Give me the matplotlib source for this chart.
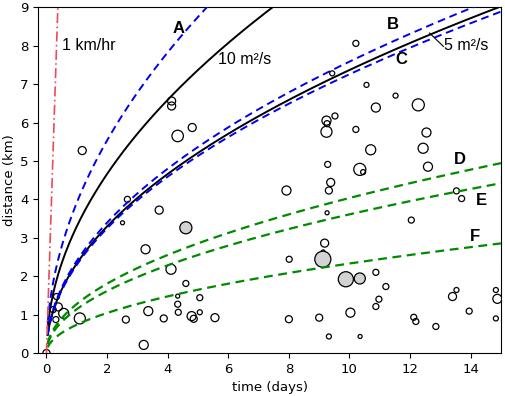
import matplotlib
matplotlib.use("Agg")
import matplotlib.pyplot as plt
import numpy as np

# diffusivities (m^2/s) of the reference curves
black_D = [10, 5]
black_labels = ["10 m\u00b2/s", "5 m\u00b2/s"]
blue_D = [14.1, 5.3, 4.85]
blue_names = ["A", "B", "C"]
green_D = [1.5, 1.2, 0.5]
green_names = ["D", "E", "F"]
speed_kmh = 1

# events: time (days), distance (km), marker size, filled
ev_time = [0.0, 0.22, 0.33, 0.39, 0.31, 0.57, 1.10, 1.18, 2.51, 2.67,
           2.62, 3.21, 3.27, 3.36, 3.72, 3.87, 4.11, 4.13, 4.13, 4.33,
           4.33, 4.33, 4.35, 4.60, 4.60, 4.79, 4.81, 4.86, 5.06, 5.06,
           5.56, 7.92, 8.01, 8.00, 9.00, 9.12, 9.13, 9.18, 9.24, 9.26,
           9.24, 9.26, 9.28, 9.32, 9.38, 9.32, 9.43, 9.52, 9.88, 10.03,
           10.21, 10.21, 10.34, 10.34, 10.45, 10.35, 10.56, 10.70, 10.87, 10.87,
           10.87, 10.97, 11.20, 11.52, 12.04, 12.12, 12.19, 12.27, 12.43, 12.54,
           12.59, 12.85, 13.40, 13.53, 13.53, 13.70, 13.95, 14.83, 14.88, 14.83]
ev_dist = [0.0, 1.13, 1.47, 1.20, 0.87, 1.03, 0.90, 5.27, 3.39, 4.00,
           0.87, 0.21, 2.70, 1.09, 3.72, 0.90, 2.18, 6.56, 6.43, 5.65,
           1.48, 1.27, 1.06, 3.26, 1.81, 0.96, 5.87, 0.89, 1.44, 1.06,
           0.92, 4.23, 2.44, 0.88, 0.92, 2.44, 2.63, 2.86, 6.05, 5.97,
           5.76, 3.65, 4.91, 4.23, 4.44, 0.43, 7.28, 6.17, 1.92, 1.05,
           8.06, 5.82, 1.94, 4.78, 4.71, 0.43, 6.98, 5.29, 6.39, 2.10,
           1.21, 1.40, 1.73, 6.70, 3.46, 0.93, 0.82, 6.46, 5.33, 5.74,
           4.85, 0.69, 1.47, 1.64, 4.22, 4.02, 1.09, 1.64, 1.41, 0.90]
ev_size = [3.5, 3, 3, 4, 3, 5, 5.5, 4, 2, 3,
           3.5, 4.5, 4.5, 4.5, 4, 3.5, 5, 4, 4, 5.7,
           2, 3, 3, 6, 3, 4.5, 4, 3.5, 3, 2.5,
           4, 4.5, 3, 3.5, 3.5, 8, 2, 4, 4.5, 3,
           5.5, 2, 3, 3.5, 4, 2.5, 2.5, 3, 7.5, 4.5,
           3, 3, 5.5, 6, 2.5, 2, 2.5, 5, 4.5, 3,
           3, 3, 3, 2.5, 3, 3, 3, 6, 5, 4.5,
           4.5, 3, 4, 2.5, 3, 3, 3, 2.5, 4.5, 2.5]
ev_filled = [24, 36, 49, 53]  # 1-based index of grey events

LABEL_FONT = ["Liberation Sans", "DejaVu Sans"]


def diffusion_distance(D, t_days):
    # r = sqrt(4 pi D t), in km
    return np.sqrt(4 * np.pi * D * t_days * 86400) / 1000


def plot_data():
    fig = plt.figure(figsize=(5.05, 3.96), dpi=100)
    ax = fig.add_axes([0.0758, 0.1086, 0.9163, 0.873])

    # events
    x = np.array(ev_time)
    y = np.array(ev_dist)
    s = 2.1 * np.array(ev_size) ** 2
    grey = np.zeros(len(x), dtype=bool)
    grey[np.array(ev_filled) - 1] = True
    ax.scatter(x[~grey], y[~grey], s=s[~grey], facecolors="none",
               edgecolors="black", linewidths=0.9, zorder=2)
    ax.scatter(x[grey], y[grey], s=s[grey], facecolors="#d3d3d3",
               edgecolors="black", linewidths=0.9, zorder=2)

    t = np.linspace(0.04, 15, 400)
    for D in black_D:
        ax.plot(t, diffusion_distance(D, t), color="black", lw=1.4, zorder=3)
    for D in blue_D:
        ax.plot(t, diffusion_distance(D, t), color="#0000ee", lw=1.4,
                ls=(0, (4, 2.5)), zorder=3)
    for D in green_D:
        ax.plot(t, diffusion_distance(D, t), color="#008a00", lw=1.6,
                ls=(0, (4, 2.5)), zorder=3)

    # 1 km/hr front
    tr = np.array([0, 0.4])
    ax.plot(tr, tr * 24 * speed_kmh, color="#ee4a55", lw=1.2,
            ls=(0, (6, 2, 1, 2)), zorder=3)

    ax.text(0.5, 8.0, "1 km/hr", fontsize=11.5, family=LABEL_FONT, va="center")
    ax.text(5.66, 7.63, black_labels[0], fontsize=11.5, family=LABEL_FONT,
            va="center")
    # leader line to the 5 m2/s curve
    ax.plot([12.64, 13.1], [8.33, 7.98], color="black", lw=0.8, zorder=3)
    ax.text(13.12, 8.0, black_labels[1], fontsize=11.5, family=LABEL_FONT,
            va="center")

    name_pos = [(4.35, 8.45), (11.42, 8.54), (11.72, 7.63),
                (13.64, 5.03), (14.36, 3.98), (14.14, 3.03)]
    for name, (px, py) in zip(blue_names + green_names, name_pos):
        ax.text(px, py, name, fontsize=12, fontweight="bold",
                family=LABEL_FONT, ha="center", va="center")

    ax.set_xlim(-0.27, 15)
    ax.set_ylim(0, 9)
    ax.set_xticks(np.arange(0, 15, 2))
    ax.set_yticks(np.arange(0, 10, 1))
    ax.tick_params(labelsize=9.5)
    ax.set_xlabel("time (days)", fontsize=9.5)
    ax.set_ylabel("distance (km)", fontsize=9.5, labelpad=3)
    fig.savefig("out.png", dpi=100)


if __name__ == '__main__':
    plot_data()
